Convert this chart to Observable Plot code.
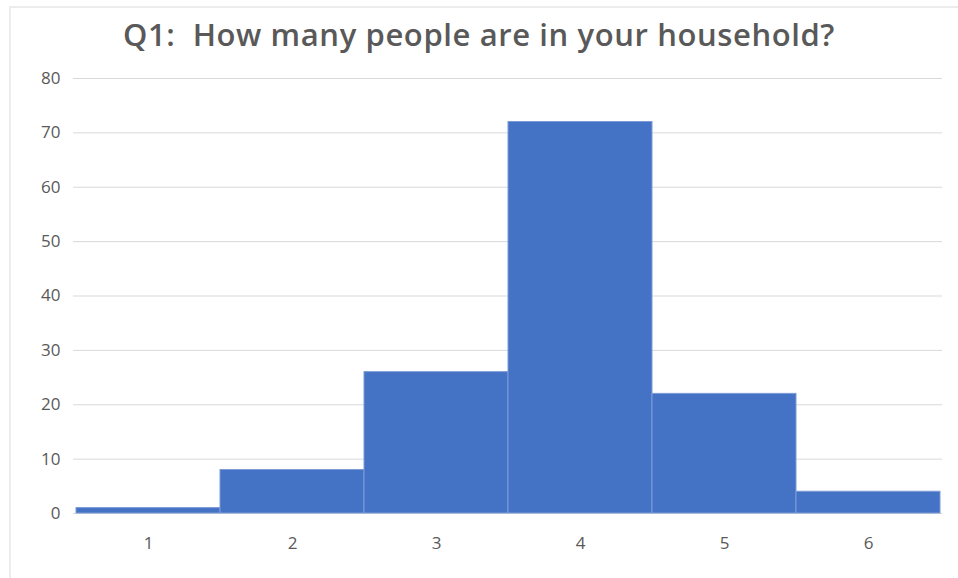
<!DOCTYPE html>
<html>
<head>
<meta charset="utf-8">
<script src="https://cdn.jsdelivr.net/npm/d3@7"></script>
<script src="https://cdn.jsdelivr.net/npm/@observablehq/plot@0.6"></script>
<style>
  html, body { margin: 0; padding: 0; background: #fff; }
  #wrap { position: relative; width: 958px; height: 578px; overflow: hidden; }
  #frame { position: absolute; left: 9px; top: 6px; width: 960px; height: 600px;
           border-left: 2px solid #ececec; border-top: 2px solid #ececec; }
  #title { position: absolute; left: 0; top: 12px; width: 958px; text-align: center;
           font-family: "Open Sans", sans-serif; font-weight: 600; font-size: 31px;
           color: #595959; letter-spacing: 0.6px; line-height: 44px; }
  #chart { position: absolute; left: 0; top: 0; }
</style>
</head>
<body>
<div id="wrap">
  <div id="frame"></div>
  <div id="chart"></div>
  <div id="title">Q1:&nbsp; How many people are in your household?</div>
</div>
<script>
const householdSize = ["1", "2", "3", "4", "5", "6"];
const counts = [1, 8, 26, 72, 22, 4];
const yTicks = [0, 10, 20, 30, 40, 50, 60, 70, 80];

const data = householdSize.map((k, i) => ({size: k, count: counts[i]}));

const chart = Plot.plot({
  width: 958,
  height: 578,
  marginTop: 78,
  marginBottom: 65,
  marginLeft: 73,
  marginRight: 16,
  style: {fontFamily: "'Open Sans', sans-serif", fontSize: "17px", color: "#595959", background: "transparent"},
  x: {domain: householdSize, padding: 0, label: null, tickSize: 0, tickPadding: 23},
  y: {domain: [0, 80], ticks: yTicks, label: null, tickSize: 0, tickPadding: 13},
  marks: [
    Plot.gridY(yTicks, {stroke: "#d9d9d9", strokeOpacity: 1, strokeWidth: 1}),
    Plot.barY(data, {x: "size", y: "count", fill: "#4472c4", stroke: "#7d9bd8", strokeWidth: 1})
  ]
});
document.getElementById("chart").appendChild(chart);
</script>
</body>
</html>
